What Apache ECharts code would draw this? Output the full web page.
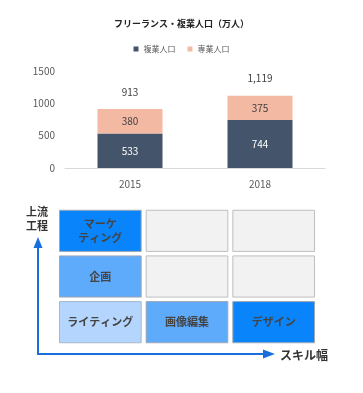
<!DOCTYPE html>
<html><head><meta charset="utf-8">
<script src="https://cdn.jsdelivr.net/npm/echarts@6/dist/echarts.min.js"></script>
<style>html,body{margin:0;padding:0;background:#fff}#c{width:363px;height:393px}</style>
</head><body><div id="c"></div>
<script>
const years = ['2015', '2018'];
const fukugyo = [533, 744];
const sengyo = [380, 375];
const totals = [913, 1119];
const yTicks = [0, 500, 1000, 1500];
const skillCols = ['c1', 'c2', 'c3'];
const processRows = ['r1', 'r2', 'r3'];
// [colIndex, rowIndex(0=bottom), label, level]
const cells = [
  [0, 2, 'マーケ\nティング', 3], [1, 2, '', 0], [2, 2, '', 0],
  [0, 1, '企画', 2], [1, 1, '', 0], [2, 1, '', 0],
  [0, 0, 'ライティング', 1], [1, 0, '画像編集', 2], [2, 0, 'デザイン', 3]
];
const levelColors = ['#F2F2F2', '#B4D5FD', '#5EAAFB', '#0A84FA'];
const levelBorders = ['#BFBFBF', '#A9B8C9', '#A0A8B4', '#A0A8B4'];
const FF = '"Noto Sans CJK JP", "Noto Sans", sans-serif';

const chart = echarts.init(document.getElementById('c'));
chart.setOption({
  animation: false,
  textStyle: { fontFamily: FF },
  title: { text: 'フリーランス・複業人口（万人）', left: 'center', top: 14,
    textStyle: { fontSize: 9, fontWeight: 'bold', color: '#222', fontFamily: FF } },
  legend: { data: ['複業人口', '専業人口'], top: 40, left: 'center', itemWidth: 5, itemHeight: 5,
    itemGap: 12, icon: 'rect', textStyle: { fontSize: 8, color: '#595959', fontFamily: FF } },
  grid: [
    { left: 65, right: 38, top: 71, bottom: 225 },
    { left: 57, width: 260, top: 208, height: 137 }
  ],
  xAxis: [
    { type: 'category', data: years, gridIndex: 0,
      axisLine: { lineStyle: { color: '#D9D9D9' } }, axisTick: { show: false },
      axisLabel: { fontSize: 10, color: '#595959', margin: 11 } },
    { type: 'category', data: skillCols, gridIndex: 1, show: false }
  ],
  yAxis: [
    { type: 'value', gridIndex: 0, min: yTicks[0], max: yTicks[yTicks.length - 1], interval: 500,
      splitLine: { show: false }, axisLine: { show: false }, axisTick: { show: false },
      axisLabel: { fontSize: 10, color: '#595959', margin: 10, formatter: v => String(v) } },
    { type: 'category', data: processRows, gridIndex: 1, show: false }
  ],
  series: [
    { name: '複業人口', type: 'bar', stack: 'a', data: fukugyo, barWidth: '50%',
      itemStyle: { color: '#44546A' },
      label: { show: true, position: 'inside', color: '#fff', fontSize: 10 } },
    { name: '専業人口', type: 'bar', stack: 'a', data: sengyo, barWidth: '50%',
      itemStyle: { color: '#F4B9A3' },
      label: { show: true, position: 'inside', color: '#404040', fontSize: 10 } },
    { name: '合計', type: 'bar', data: totals, barWidth: '50%', barGap: '-100%', z: 1,
      itemStyle: { color: 'rgba(0,0,0,0)' }, silent: true,
      label: { show: true, position: 'top', distance: 12, color: '#404040', fontSize: 10,
        formatter: p => p.value.toLocaleString('en-US') } },
    { type: 'custom', xAxisIndex: 1, yAxisIndex: 1, data: cells,
      renderItem: function (params, api) {
        const c = api.coord([api.value(0), api.value(1)]);
        const s = api.size([1, 1]);
        const w = s[0] - 5, h = s[1] - 4.5;
        const lvl = cells[params.dataIndex][3];
        const txt = cells[params.dataIndex][2];
        return {
          type: 'group', children: [
            { type: 'rect', shape: { x: c[0] - w / 2, y: c[1] - h / 2, width: w, height: h },
              style: { fill: levelColors[lvl], stroke: levelBorders[lvl], lineWidth: 1 } },
            { type: 'text', x: c[0], y: c[1],
              style: { text: txt, align: 'center', verticalAlign: 'middle', fontSize: 11,
                fontWeight: 'bold', fill: '#444', fontFamily: FF, lineHeight: 14 } }
          ]
        };
      }
    }
  ],
  graphic: [
    { type: 'polyline', shape: { points: [[38, 246], [38, 354], [264, 354]] },
      style: { stroke: '#1A6FDF', lineWidth: 2, fill: null } },
    { type: 'polygon', shape: { points: [[33.5, 248], [42.5, 248], [38, 237]] }, style: { fill: '#1A6FDF' } },
    { type: 'polygon', shape: { points: [[263, 349.5], [263, 358.5], [275, 354]] }, style: { fill: '#1A6FDF' } },
    { type: 'text', x: 37, y: 205, style: { text: '上流\n工程', align: 'center', fontSize: 11,
      fontWeight: 'bold', fill: '#333', fontFamily: FF, lineHeight: 14 } },
    { type: 'text', x: 280, y: 355, style: { text: 'スキル幅', verticalAlign: 'middle', fontSize: 12,
      fontWeight: 'bold', fill: '#333', fontFamily: FF } }
  ]
});
</script></body></html>
